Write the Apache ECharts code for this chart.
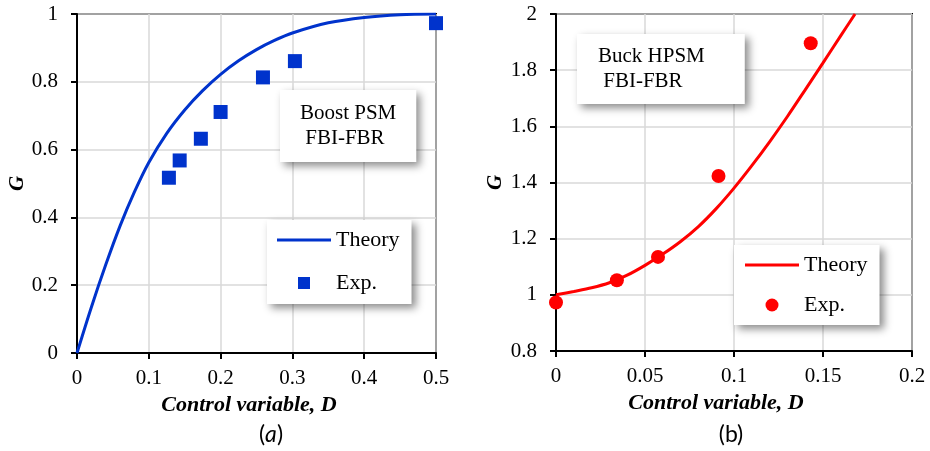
<!DOCTYPE html>
<html>
<head>
<meta charset="utf-8">
<script src="https://cdn.jsdelivr.net/npm/echarts@6/dist/echarts.min.js"></script>
<style>html,body{margin:0;padding:0;background:#fff}#c{width:930px;height:451px}</style>
</head>
<body>
<div id="c"></div>
<script>
// ---- Panel (a): Boost PSM ----
const boostTheoryD = [0, 0.02, 0.04, 0.06, 0.08, 0.1, 0.125, 0.15, 0.175, 0.2, 0.225, 0.25, 0.275, 0.3, 0.35, 0.4, 0.45, 0.5];
const boostTheoryG = [0, 0.135, 0.26, 0.375, 0.475, 0.562, 0.648, 0.717, 0.774, 0.822, 0.862, 0.895, 0.922, 0.944, 0.974, 0.99, 0.998, 1.0];
const boostExpD = [0.128, 0.143, 0.1725, 0.2, 0.259, 0.3035, 0.5];
const boostExpG = [0.517, 0.568, 0.632, 0.711, 0.813, 0.861, 0.973];

// ---- Panel (b): Buck HPSM ----
const buckTheoryD = [0, 0.01, 0.02, 0.03, 0.04, 0.05, 0.06, 0.07, 0.08, 0.09, 0.1, 0.11, 0.12, 0.13, 0.14, 0.15, 0.16, 0.168];
const buckTheoryG = [1.0, 1.012, 1.025, 1.043, 1.07, 1.105, 1.145, 1.19, 1.243, 1.307, 1.38, 1.46, 1.545, 1.635, 1.73, 1.826, 1.923, 2.0];
const buckExpD = [0, 0.0342, 0.0573, 0.0913, 0.1431];
const buckExpG = [0.9725, 1.052, 1.135, 1.423, 1.896];

// ---- Text ----
const xAxisTitle = 'Control variable, D';
const yAxisTitle = 'G';
const boxTextA = 'Boost PSM\n FBI-FBR';
const boxTextB = 'Buck HPSM\n FBI-FBR';
const legendNames = ['Theory', 'Exp.'];

const zip = (a, b) => a.map((v, i) => [v, b[i]]);

const SERIF = 'Liberation Serif';
const BLUE = '#0033cc';
const RED = '#ff0000';

function xAxisCfg(gridIndex, max, interval, padRight) {
  return {
    type: 'value', gridIndex, min: 0, max, interval,
    name: xAxisTitle, nameLocation: 'middle', nameGap: 32,
    nameTextStyle: { fontFamily: SERIF, fontSize: 22, fontWeight: 'bold', fontStyle: 'italic', color: '#000', padding: [0, padRight, 0, 0] },
    axisLine: { show: true, onZero: false, lineStyle: { color: '#000', width: 2 } },
    axisTick: { show: true, length: 6, lineStyle: { color: '#000', width: 2 } },
    axisLabel: { fontFamily: SERIF, fontSize: 21, color: '#000', margin: 15 },
    splitLine: { show: true, lineStyle: { color: '#d9d9d9', width: 1.5 } }
  };
}
function yAxisCfg(gridIndex, min, max, interval, gap) {
  return {
    type: 'value', gridIndex, min, max, interval,
    name: yAxisTitle, nameLocation: 'middle', nameGap: gap,
    nameTextStyle: { fontFamily: SERIF, fontSize: 21, fontWeight: 'bold', fontStyle: 'italic', color: '#000' },
    axisLine: { show: true, onZero: false, lineStyle: { color: '#000', width: 2 } },
    axisTick: { show: true, length: 6, lineStyle: { color: '#000', width: 2 } },
    axisLabel: { fontFamily: SERIF, fontSize: 21, color: '#000', margin: 19 },
    splitLine: { show: true, lineStyle: { color: '#d9d9d9', width: 1.5 } }
  };
}

const boxStyle = {
  backgroundColor: '#fff',
  shadowBlur: 8, shadowColor: 'rgba(0,0,0,0.45)', shadowOffsetX: 4, shadowOffsetY: 4
};

const option = {
  backgroundColor: '#fff',
  animation: false,
  grid: [
    { left: 77, top: 14, width: 359, height: 339, show: true, borderColor: '#000', borderWidth: 2 },
    { left: 556, top: 14, width: 356, height: 337, show: true, borderColor: '#000', borderWidth: 2 }
  ],
  xAxis: [xAxisCfg(0, 0.5, 0.1, 15), xAxisCfg(1, 0.2, 0.05, 36)],
  yAxis: [yAxisCfg(0, 0, 1, 0.2, 41), yAxisCfg(1, 0.8, 2, 0.2, 50)],
  title: [
    Object.assign({ text: boxTextA, left: 280, top: 90, padding: [11, 20, 11, 20],
      textStyle: { fontFamily: SERIF, fontSize: 21, fontWeight: 'normal', color: '#000', lineHeight: 25 } }, boxStyle),
    Object.assign({ text: boxTextB, left: 577, top: 34, padding: [10, 40, 10, 21],
      textStyle: { fontFamily: SERIF, fontSize: 21, fontWeight: 'normal', color: '#000', lineHeight: 25 } }, boxStyle)
  ],
  legend: [
    Object.assign({
      orient: 'vertical', left: 267, top: 220, padding: [9, 12, 10, 10],
      itemWidth: 54, itemHeight: 12, itemGap: 21,
      data: [{ name: 'a-' + legendNames[0], icon: 'path://M0,0H54V3H0Z' }, { name: 'a-' + legendNames[1], icon: 'path://M0,0H1V1H0Z' }],
      formatter: n => n.slice(2),
      itemStyle: { borderWidth: 0 },
      textStyle: { fontFamily: SERIF, fontSize: 22, color: '#000' }
    }, boxStyle),
    Object.assign({
      orient: 'vertical', left: 734, top: 245, padding: [9, 12, 9, 11],
      itemWidth: 54, itemHeight: 13, itemGap: 18,
      data: [{ name: 'b-' + legendNames[0], icon: 'path://M0,0H54V3H0Z' }, { name: 'b-' + legendNames[1], icon: 'circle' }],
      formatter: n => n.slice(2),
      itemStyle: { borderWidth: 0 },
      textStyle: { fontFamily: SERIF, fontSize: 22, color: '#000' }
    }, boxStyle)
  ],
  graphic: [
    { type: 'text', x: 271, y: 435, style: { text: '({i|a})', align: 'center', verticalAlign: 'middle', font: '23px Lato', fill: '#000',
        rich: { i: { fontStyle: 'italic', fontFamily: 'Lato', fontSize: 23, fill: '#000' } } } },
    { type: 'text', x: 731, y: 435, style: { text: '(b)', align: 'center', verticalAlign: 'middle', font: '23px Lato', fill: '#000' } }
  ],
  series: [
    { name: 'a-Theory', type: 'line', xAxisIndex: 0, yAxisIndex: 0, data: zip(boostTheoryD, boostTheoryG),
      smooth: 0.3, showSymbol: false, symbol: 'none', lineStyle: { color: BLUE, width: 3 }, itemStyle: { color: BLUE }, z: 3 },
    { name: 'a-Exp.', type: 'scatter', xAxisIndex: 0, yAxisIndex: 0, data: zip(boostExpD, boostExpG),
      symbol: 'rect', symbolSize: 14, itemStyle: { color: BLUE, opacity: 1 }, z: 4 },
    { name: 'b-Theory', type: 'line', xAxisIndex: 1, yAxisIndex: 1, data: zip(buckTheoryD, buckTheoryG),
      smooth: 0.3, showSymbol: false, symbol: 'none', lineStyle: { color: RED, width: 3 }, itemStyle: { color: RED }, z: 3 },
    { name: 'b-Exp.', type: 'scatter', xAxisIndex: 1, yAxisIndex: 1, data: zip(buckExpD, buckExpG),
      symbol: 'circle', symbolSize: 14, itemStyle: { color: RED, opacity: 1 }, z: 4 }
  ]
};

const chart = echarts.init(document.getElementById('c'), null, { renderer: 'canvas' });
chart.setOption(option);
</script>
</body>
</html>
